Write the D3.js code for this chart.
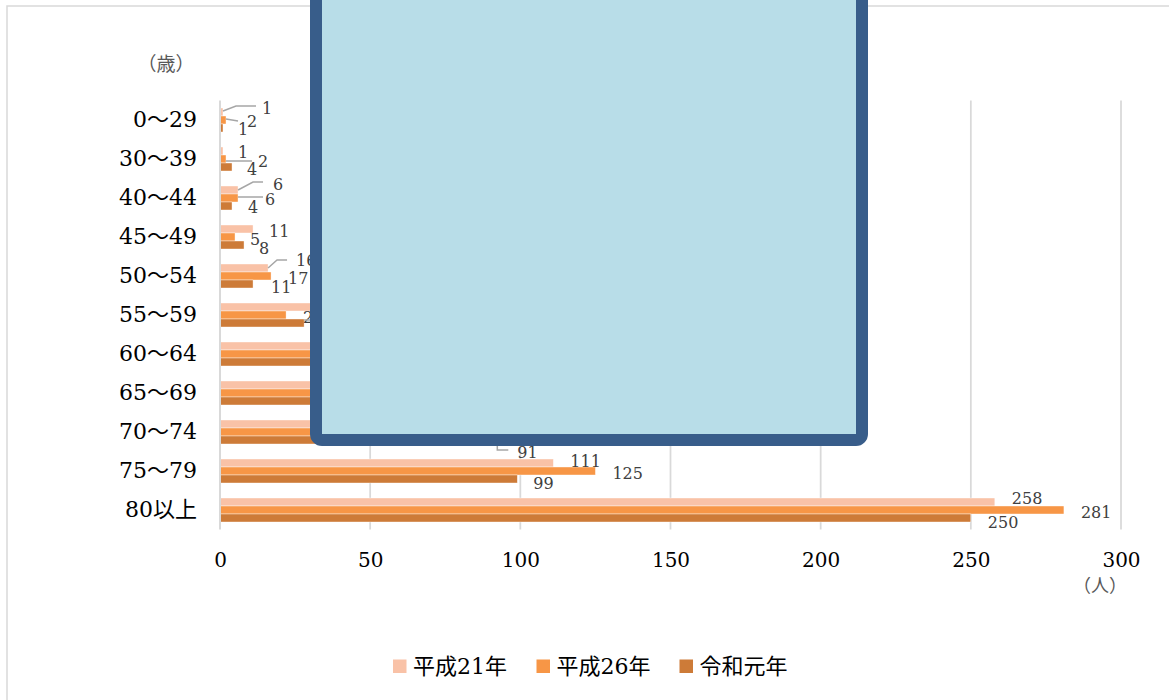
<!DOCTYPE html>
<html><head><meta charset="utf-8">
<script src="https://cdn.jsdelivr.net/npm/d3@7"></script>
<style>body{margin:0;background:#fff} svg{display:block}</style>
</head><body>
<svg id="c" width="1169" height="700"></svg>
<script>
// ---- data ----
const categories = ["0～29","30～39","40～44","45～49","50～54","55～59","60～64","65～69","70～74","75～79","80以上"];
const seriesNames = ["平成21年","平成26年","令和元年"];
const h21 = [1, 1, 6, 11, 16, 35, 48, 70, 95, 111, 258];
const h26 = [2, 2, 6, 5, 17, 22, 42, 75, 100, 125, 281];
const r1  = [1, 4, 4, 8, 11, 28, 38, 60, 91, 99, 250];
const xTicks = [0, 50, 100, 150, 200, 250, 300];
const yUnit = "（歳）";
const xUnit = "（人）";

// ---- styles / label placement ----
const colors = ["#F9C2A7", "#F79646", "#CD7B38"];
const serif = "'DejaVu Serif','Noto Sans CJK JP',serif";
const labelDefault = {dx: 16, dy: 2};
const labelOverrides = {
  "0-0": {dx: 39, dy: -4, leader: [[0,-1],[13,-6],[33,-6]]},
  "0-1": {dx: 21, dy: 1, leader: [[0,-1],[12,1]]},
  "0-2": {dx: 15, dy: 1},
  "1-0": {dx: 15, dy: 1},
  "1-1": {dx: 32, dy: 2, leader: [[0,2],[26,2]]},
  "1-2": {dx: 15, dy: 2},
  "2-0": {dx: 35, dy: -6, leader: [[0,0],[15,-8],[25,-8]]},
  "2-1": {dx: 27, dy: 1, leader: [[0,-1],[25,-1]]},
  "2-2": {dx: 16, dy: 1},
  "3-0": {dx: 16, dy: 2}, "3-1": {dx: 15, dy: 2}, "3-2": {dx: 15, dy: 3},
  "4-0": {dx: 28, dy: -8, leader: [[0,0],[9,-8],[19,-8]]},
  "4-1": {dx: 17, dy: 2}, "4-2": {dx: 18, dy: 3},
  "5-0": {dx: 16, dy: -4},
  "5-1": {dx: 17, dy: 2},
  "5-2": {dx: 40, dy: 5, leader: [[0,-3],[6,-3]]},
  "6-0": {dx: 16, dy: -2}, "6-1": {dx: 58, dy: 2}, "6-2": {dx: 92, dy: 4},
  "7-1": {dx: 32, dy: 2},
  "8-1": {dx: 32, dy: 2},
  "8-2": {dx: 24, dy: 12, leader: [[4,5],[4,10],[15,10]]},
  "9-0": {dx: 17, dy: -2}, "9-1": {dx: 17, dy: 2}, "9-2": {dx: 16, dy: 4},
  "10-0": {dx: 17, dy: -4}, "10-1": {dx: 17, dy: 2}, "10-2": {dx: 17, dy: 4}
};

const series = [h21, h26, r1];
const svg = d3.select("#c");

// chart border
svg.append("rect").attr("x", 7).attr("y", 6).attr("width", 1300).attr("height", 900)
  .attr("fill", "#fff").attr("stroke", "#d9d9d9").attr("stroke-width", 1.5);

const x = d3.scaleLinear().domain([0, 300]).range([220, 1121]);
const y = d3.scaleBand().domain(categories).range([100.5, 529.5]).paddingInner(15/39).paddingOuter(15/78);
const ys = d3.scaleBand().domain([0,1,2]).range([0, y.bandwidth()]);

// gridlines
svg.append("g").selectAll("line").data(xTicks.slice(1)).join("line")
  .attr("x1", d => x(d)).attr("x2", d => x(d))
  .attr("y1", 100.5).attr("y2", 529.5)
  .attr("stroke", "#d9d9d9").attr("stroke-width", 1.75);

// bars
const gBars = svg.append("g");
series.forEach((vals, s) => {
  gBars.append("g").selectAll("rect").data(vals).join("rect")
    .attr("x", x(0))
    .attr("y", (d, i) => y(categories[i]) + ys(s))
    .attr("width", d => x(d) - x(0))
    .attr("height", ys.bandwidth())
    .attr("fill", colors[s])
    .attr("stroke", "#fff").attr("stroke-width", 0.4);
});

// vertical axis line
svg.append("line").attr("x1", x(0)).attr("x2", x(0)).attr("y1", 100.5).attr("y2", 529.5)
  .attr("stroke", "#d9d9d9").attr("stroke-width", 2);

// data labels
const gLab = svg.append("g");
series.forEach((vals, s) => {
  vals.forEach((v, i) => {
    const o = labelOverrides[i + "-" + s] || labelDefault;
    const bx = x(v), by = y(categories[i]) + ys(s) + ys.bandwidth() / 2;
    if (o.leader) {
      gLab.append("polyline")
        .attr("points", o.leader.map(p => (bx + p[0]) + "," + (by + p[1])).join(" "))
        .attr("fill", "none").attr("stroke", "#A6A6A6").attr("stroke-width", 1.5);
    }
    gLab.append("text").attr("x", bx + o.dx).attr("y", by + o.dy)
      .attr("dominant-baseline", "central")
      .attr("font-family", serif).attr("font-size", 16).attr("fill", "#404040")
      .text(v);
  });
});

// category axis
const yAxis = svg.append("g").attr("transform", `translate(${x(0)},0)`)
  .call(d3.axisLeft(y).tickSize(0).tickPadding(23));
yAxis.select(".domain").remove();
yAxis.selectAll("text").attr("font-family", serif).attr("font-size", 22).attr("fill", "#000");

// value axis
const xAxis = svg.append("g").attr("transform", `translate(0,555)`)
  .call(d3.axisBottom(x).tickValues(xTicks).tickSize(0).tickPadding(0));
xAxis.select(".domain").remove();
xAxis.selectAll("text").attr("font-family", serif).attr("font-size", 20).attr("fill", "#000")
  .attr("dy", "0.6em");

// unit labels
svg.append("text").attr("x", 166).attr("y", 62).attr("text-anchor", "middle")
  .attr("dominant-baseline", "central").attr("font-family", "'Noto Sans CJK JP'")
  .attr("font-size", 19).attr("fill", "#595959").text(yUnit);
svg.append("text").attr("x", 1100).attr("y", 584).attr("text-anchor", "middle")
  .attr("dominant-baseline", "central").attr("font-family", "'Noto Sans CJK JP'")
  .attr("font-size", 18).attr("fill", "#595959").text(xUnit);

// legend
const legX = [393, 536.5, 679.5];
const leg = svg.append("g");
seriesNames.forEach((n, s) => {
  leg.append("rect").attr("x", legX[s]).attr("y", 659.5).attr("width", 13.5).attr("height", 13.5)
    .attr("fill", colors[s]);
  leg.append("text").attr("x", legX[s] + 20).attr("y", 666).attr("dominant-baseline", "central")
    .attr("font-family", serif).attr("font-size", 22).attr("fill", "#000").text(n);
});

// overlay box
svg.append("rect").attr("x", 316).attr("y", -20).attr("width", 546).attr("height", 460)
  .attr("rx", 6).attr("fill", "#B8DDE8").attr("stroke", "#385D8A").attr("stroke-width", 12);
</script>
</body></html>
